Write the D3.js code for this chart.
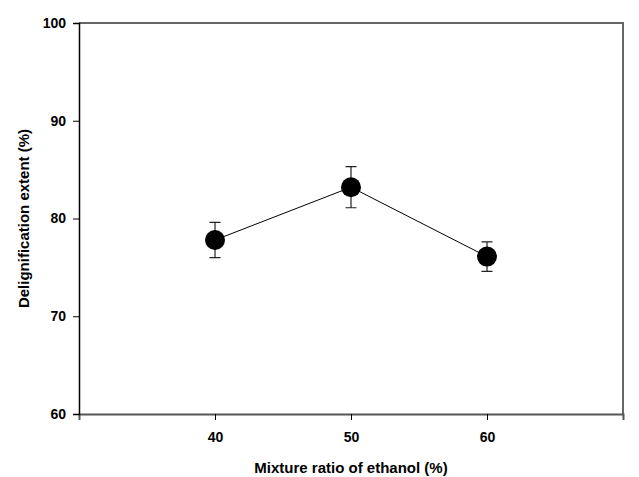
<!DOCTYPE html>
<html>
<head>
<meta charset="utf-8">
<script src="https://cdn.jsdelivr.net/npm/d3@7"></script>
<style>
  body { margin: 0; background: #fff; }
  svg { display: block; font-family: "Liberation Sans", Arial, sans-serif; }
  .tick text { font-size: 14px; font-weight: bold; fill: #000; }
  .title { font-size: 15px; font-weight: bold; fill: #000; }
</style>
</head>
<body>
<div id="chart"></div>
<script>
const ratios = [40, 50, 60]
const extent = [77.8, 83.2, 76.1]
const errors = [1.8, 2.1, 1.5]
const xTicks = [40, 50, 60]
const yTicks = [60, 70, 80, 90, 100]

const width = 639, height = 477
const margin = {top: 23, right: 16, bottom: 63, left: 79}

const data = ratios.map((r, i) => ({ratio: r, value: extent[i], err: errors[i]}))

const svg = d3.select("#chart").append("svg")
  .attr("width", width)
  .attr("height", height)
  .attr("viewBox", [0, 0, width, height])

const x = d3.scaleLinear()
  .domain([30, 70])
  .range([margin.left, width - margin.right])

const y = d3.scaleLinear()
  .domain([60, 100])
  .range([height - margin.bottom, margin.top])

// frame on top and right
svg.append("path")
  .attr("d", `M${x(30)},${y(100)}H${x(70)}V${y(60)}`)
  .attr("fill", "none")
  .attr("stroke", "#666")
  .attr("stroke-width", 2)

svg.append("g")
  .attr("transform", `translate(0, ${y(60)})`)
  .call(d3.axisBottom(x).tickValues(xTicks).tickSize(6).tickPadding(12))
  .call(g => g.select(".domain").attr("stroke", "#555").attr("stroke-width", 2))
  .call(g => g.selectAll(".tick line").attr("stroke", "#000"))
  .attr("font-family", null)

svg.append("g")
  .attr("transform", `translate(${x(30)}, 0)`)
  .call(d3.axisLeft(y).tickValues(yTicks).tickSize(6).tickPadding(7))
  .call(g => g.select(".domain").attr("stroke", "#000").attr("stroke-width", 1.5))
  .call(g => g.selectAll(".tick line").attr("stroke", "#000"))
  .attr("font-family", null)

const line = d3.line().x(d => x(d.ratio)).y(d => y(d.value))

svg.append("path")
  .attr("d", line(data))
  .attr("fill", "none")
  .attr("stroke", "#000")
  .attr("stroke-width", 1)

const bars = svg.append("g")
  .attr("stroke", "#222")
  .attr("stroke-width", 1.2)

bars.selectAll("path")
  .data(data)
  .join("path")
  .attr("fill", "none")
  .attr("d", d => {
    const cx = x(d.ratio), top = y(d.value + d.err), bot = y(d.value - d.err)
    return `M${cx},${top}V${bot}M${cx - 5.5},${top}H${cx + 5.5}M${cx - 5.5},${bot}H${cx + 5.5}`
  })

svg.append("g")
  .selectAll("circle")
  .data(data)
  .join("circle")
  .attr("cx", d => x(d.ratio))
  .attr("cy", d => y(d.value))
  .attr("r", 10)
  .attr("fill", "#000")

svg.append("text")
  .attr("class", "title")
  .attr("text-anchor", "middle")
  .attr("x", (x(30) + x(70)) / 2)
  .attr("y", 473)
  .text("Mixture ratio of ethanol (%)")

svg.append("text")
  .attr("class", "title")
  .attr("text-anchor", "middle")
  .attr("transform", `translate(29, ${(y(60) + y(100)) / 2}) rotate(-90)`)
  .text("Delignification extent (%)")
</script>
</body>
</html>
